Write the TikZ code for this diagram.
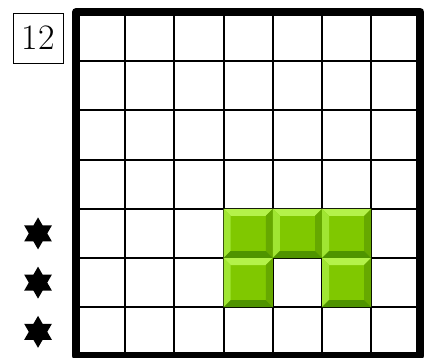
\documentclass[tikz,border=0pt]{standalone}
\begin{document}
\begin{tikzpicture}[x=1cm,y=1cm,
  thinline/.style={line width=1.15pt,black},
  frame/.style={line width=4.6pt,black,line join=round},
  tile/.pic={
    \fill[tilemid] (0,0) rectangle (1,1);
    \fill[tiletop] (0,1) -- (1,1) -- (1-0.142,1-0.142) -- (0.142,1-0.142) -- cycle;
    \fill[tileleft] (0,0) -- (0,1) -- (0.142,1-0.142) -- (0.142,0.142) -- cycle;
    \fill[tileright] (1,0) -- (1,1) -- (1-0.142,1-0.142) -- (1-0.142,0.142) -- cycle;
    \fill[tilebot] (0,0) -- (1,0) -- (1-0.142,0.142) -- (0.142,0.142) -- cycle;
  },
  hexstar/.pic={
    \fill[black] (90:0.325) -- (120:0.1876) -- (150:0.325) -- (180:0.1876) -- (210:0.325) -- (240:0.1876) -- (270:0.325) -- (300:0.1876) -- (330:0.325) -- (0:0.1876) -- (30:0.325) -- (60:0.1876) -- cycle;
  }
]
\definecolor{tilemid}{HTML}{80C800}
\definecolor{tiletop}{HTML}{B4F24A}
\definecolor{tileleft}{HTML}{A0E632}
\definecolor{tileright}{HTML}{66A800}
\definecolor{tilebot}{HTML}{4F9400}
\useasboundingbox (-1.545,-0.02) rectangle (7.215,7.244);
% thin grid
\foreach \i in {1,...,6} {
  \draw[thinline] (\i,0) -- (\i,7);
  \draw[thinline] (0,\i) -- (7,\i);
}
% green tiles
\pic at (3,2) {tile};
\pic at (4,2) {tile};
\pic at (5,2) {tile};
\pic at (3,1) {tile};
\pic at (5,1) {tile};
% frame
\draw[frame] (0,0) rectangle (7,7);
% label
\node[draw,line width=0.5pt,minimum size=1.016cm,inner sep=0pt,font=\fontsize{20.7}{25}\selectfont] (lbl) at (-0.772,6.472) {12};
% stars
\pic at (-0.772,0.5) {hexstar};
\pic at (-0.772,1.5) {hexstar};
\pic at (-0.772,2.5) {hexstar};
\end{tikzpicture}
\end{document}
